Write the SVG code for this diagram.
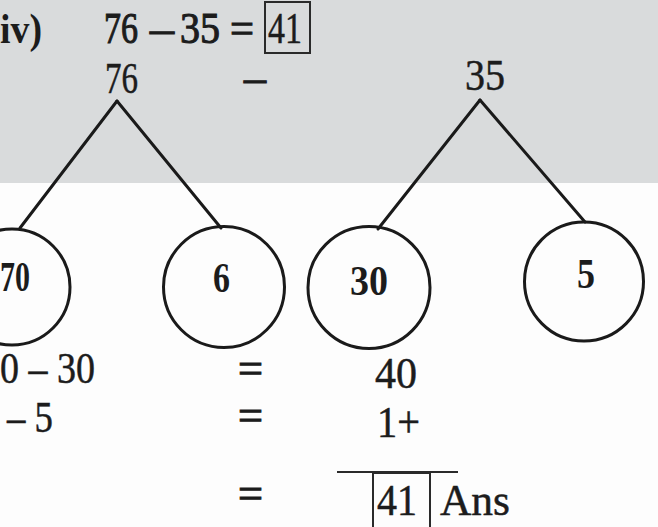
<svg xmlns="http://www.w3.org/2000/svg" width="658" height="527" viewBox="0 0 658 527">
<style>
  .t { font-family: "Liberation Serif", "Times New Roman", serif; font-size: 44px; fill: #1c1c1c; stroke: #1c1c1c; stroke-width: 0.5; }
  .h { stroke-width: 1.1; }
  .b { font-family: "Liberation Serif", "Times New Roman", serif; font-size: 42px; font-weight: bold; fill: #1c1c1c; }
  .circ { fill: none; stroke: #1a1a1a; stroke-width: 3; }
  .edge { stroke: #1a1a1a; stroke-width: 3; stroke-linecap: round; }
  .box { fill: none; stroke: #2a2a2a; stroke-width: 2; }
</style>
<rect x="0" y="0" width="658" height="527" fill="#fdfdfd"/>
<rect x="0" y="0" width="658" height="183" fill="#d9dbdc"/>

<g id="equation">
  <text class="b" x="0" y="43" textLength="42" lengthAdjust="spacingAndGlyphs">iv)</text>
  <text class="t h" x="104" y="43" textLength="34" lengthAdjust="spacingAndGlyphs">76</text>
  <text class="t h" x="150" y="43" textLength="24" lengthAdjust="spacingAndGlyphs">–</text>
  <text class="t h" x="180" y="43" textLength="40" lengthAdjust="spacingAndGlyphs">35</text>
  <text class="t h" x="230" y="43" textLength="24" lengthAdjust="spacingAndGlyphs">=</text>
  <rect class="box" x="265" y="2" width="45" height="51"/>
  <text class="t" x="268" y="43" textLength="34" lengthAdjust="spacingAndGlyphs">41</text>
</g>

<g id="connectors">
  <line class="edge" x1="117" y1="101" x2="20" y2="228"/>
  <line class="edge" x1="117" y1="101" x2="221" y2="228"/>
  <line class="edge" x1="480" y1="100" x2="378" y2="229"/>
  <line class="edge" x1="480" y1="100" x2="585" y2="222"/>
</g>

<g id="node-76">
  <text class="t" x="105" y="93" textLength="33" lengthAdjust="spacingAndGlyphs">76</text>
</g>
<g id="minus-sign">
  <text class="t h" x="244" y="92" textLength="22" lengthAdjust="spacingAndGlyphs">–</text>
</g>
<g id="node-35">
  <text class="t" x="465" y="90" textLength="40" lengthAdjust="spacingAndGlyphs">35</text>
</g>

<g id="node-70">
  <circle class="circ" cx="12" cy="287" r="58"/>
  <text class="b" x="0" y="291" textLength="30" lengthAdjust="spacingAndGlyphs">70</text>
</g>
<g id="node-6">
  <circle class="circ" cx="224" cy="287" r="60.5"/>
  <text class="b" x="213" y="292" textLength="17" lengthAdjust="spacingAndGlyphs">6</text>
</g>
<g id="node-30">
  <circle class="circ" cx="369" cy="287.5" r="61"/>
  <text class="b" x="350" y="295" textLength="38" lengthAdjust="spacingAndGlyphs">30</text>
</g>
<g id="node-5">
  <circle class="circ" cx="584" cy="281.5" r="59.5"/>
  <text class="b" x="577" y="288" textLength="18" lengthAdjust="spacingAndGlyphs">5</text>
</g>

<g id="working">
  <text class="t" x="0" y="383" textLength="95" lengthAdjust="spacingAndGlyphs">0 – 30</text>
  <text class="t" x="7" y="432" textLength="46" lengthAdjust="spacingAndGlyphs">– 5</text>
  <text class="t h" x="238" y="383" textLength="25" lengthAdjust="spacingAndGlyphs">=</text>
  <text class="t h" x="238" y="430" textLength="25" lengthAdjust="spacingAndGlyphs">=</text>
  <text class="t h" x="238" y="508" textLength="25" lengthAdjust="spacingAndGlyphs">=</text>
  <text class="t" x="375" y="388" textLength="42" lengthAdjust="spacingAndGlyphs">40</text>
  <text class="t" x="377" y="437" textLength="43" lengthAdjust="spacingAndGlyphs">1+</text>
  <line x1="337" y1="472" x2="458" y2="472" stroke="#2a2a2a" stroke-width="2"/>
  <rect class="box" x="373" y="473" width="57" height="62"/>
  <text class="t" x="377" y="515" textLength="40" lengthAdjust="spacingAndGlyphs">41</text>
  <text class="t" x="440" y="515" textLength="70" lengthAdjust="spacingAndGlyphs">Ans</text>
</g>
</svg>
